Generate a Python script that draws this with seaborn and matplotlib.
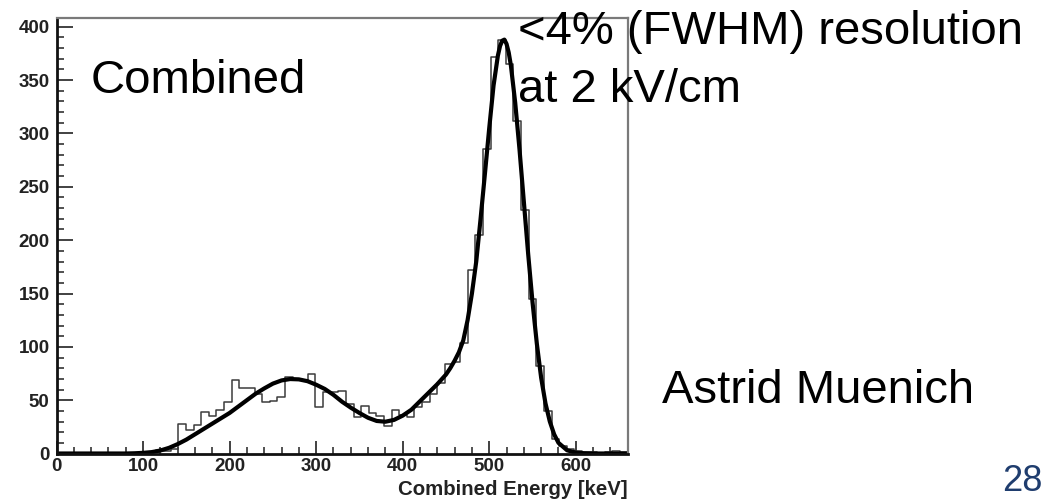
import numpy as np
import pandas as pd
import matplotlib
matplotlib.use("Agg")
import matplotlib.pyplot as plt
from matplotlib.ticker import MultipleLocator
import seaborn as sns

# Histogram of combined energy: 75 bins of 8.8 keV from 0 to 660 keV
BIN_WIDTH = 8.8
counts = [0, 0, 0, 0, 0, 0, 0, 0, 0, 0,
          0, 1, 1, 3, 2, 4, 28, 22, 27, 39,
          35, 41, 48, 69, 61, 61, 56, 48, 49, 53,
          72, 69, 69, 75, 44, 58, 58, 59, 46, 34,
          45, 38, 35, 26, 41, 36, 34, 44, 48, 56,
          66, 84, 86, 104, 172, 205, 285, 372, 388, 365,
          312, 228, 145, 82, 40, 14, 7, 4, 2, 1,
          1, 0, 1, 2, 1]

# Fitted spectrum (keV, counts)
fit_energy = [0, 10, 20, 30, 40, 50, 60, 70, 80, 90,
              100, 110, 120, 130, 140, 150, 160, 170, 180, 190,
              200, 210, 220, 230, 240, 250, 260, 270, 280, 290,
              300, 310, 320, 330, 340, 350, 360, 370, 380, 390,
              400, 410, 420, 430, 440, 450, 455, 460, 465, 470,
              475, 480, 485, 490, 495, 500, 505, 510, 512.5, 515,
              517.5, 520, 522.5, 525, 530, 535, 540, 545, 550, 555,
              560, 565, 570, 575, 580, 590, 600, 610, 620, 640, 660]
fit_counts = [0, 0, 0, 0, 0, 0, 0, 0, 0, 0.2,
              0.6, 1.3, 2.8, 5.3, 8.8, 13, 18, 23, 28, 33,
              38, 44, 50, 56, 61, 65.5, 68.5, 69.8, 69.5, 67.8,
              64.5, 60.5, 55, 48.5, 43, 38, 33.5, 30.5, 29.8, 31.5,
              35.5, 41, 49, 57, 65, 74, 80, 87, 95, 106,
              125, 150, 180, 220, 262, 305, 345, 373, 382, 387,
              388, 384, 376, 364, 329, 285, 236, 187, 142, 103,
              71, 47, 30, 18, 10, 3, 0.8, 0.2, 0, 0, 0]

x_ticks = [0, 100, 200, 300, 400, 500, 600]
y_ticks = [0, 50, 100, 150, 200, 250, 300, 350, 400]

sns.set_theme(style="white")
plt.rcParams['font.family'] = ['Liberation Sans', 'DejaVu Sans']

W, H = 1048, 499
fig = plt.figure(figsize=(W / 100, H / 100), dpi=100)
fig.patch.set_facecolor("white")

x0, x1, y_bot, y_top = 56.5, 627.7, 453.5, 18.3
ax = fig.add_axes([x0 / W, 1 - y_bot / H, (x1 - x0) / W, (y_bot - y_top) / H])
ax.set_facecolor("white")

edges = [i * BIN_WIDTH for i in range(len(counts) + 1)]
hist_df = pd.DataFrame({"energy": [e + BIN_WIDTH / 2 for e in edges[:-1]],
                        "counts": counts})
fit_df = pd.DataFrame({"energy": fit_energy, "counts": fit_counts})

sns.histplot(data=hist_df, x="energy", weights="counts", bins=edges,
             element="step", fill=False, color="#3c3c3c", linewidth=1.1, ax=ax)
sns.lineplot(data=fit_df, x="energy", y="counts", color="black",
             linewidth=3.0, ax=ax)

ax.set_xlim(0, 660)
ax.set_ylim(0, 408)

ax.set_xticks(x_ticks, labels=[str(t) for t in x_ticks], fontweight="bold",
              color="#222222", fontsize=13.5)
ax.set_yticks(y_ticks, labels=[str(t) for t in y_ticks], fontweight="bold",
              color="#222222", fontsize=13.5)
ax.xaxis.set_minor_locator(MultipleLocator(20))
ax.yaxis.set_minor_locator(MultipleLocator(10))

ax.tick_params(axis="x", which="major", direction="in", length=9.5, width=1.3,
               color="#333333", pad=3.0, bottom=True, top=False)
ax.tick_params(axis="x", which="minor", direction="in", length=5, width=1.2,
               color="#333333", bottom=True, top=False)
ax.tick_params(axis="y", which="major", direction="in", length=11.5, width=1.3,
               color="#333333", pad=5.0, left=True, right=False)
ax.tick_params(axis="y", which="minor", direction="in", length=5, width=1.2,
               color="#333333", left=True, right=False)

for side in ("left", "bottom"):
    ax.spines[side].set_color("#111111")
    ax.spines[side].set_linewidth(2.0)
for side in ("top", "right"):
    ax.spines[side].set_color("#7a7a7a")
    ax.spines[side].set_linewidth(1.6)

ax.set_ylabel("")
ax.set_xlabel("Combined Energy [keV]", fontsize=14.7, fontweight="bold",
              color="#222222", loc="right")
ax.xaxis.set_label_coords(1.0, -0.061)


def px_text(x, y, s, **kw):
    fig.text(x / W, 1 - y / H, s, ha="left", va="baseline", **kw)


px_text(90.7, 92.7, "Combined", fontsize=34, color="black")
px_text(518.3, 44.0, "<4% (FWHM) resolution", fontsize=34, color="black")
px_text(518.3, 101.7, "at 2 kV/cm", fontsize=34, color="black")
px_text(661.7, 403.3, "Astrid Muenich", fontsize=34, color="black")
px_text(1001.7, 491.0, "28", fontsize=26, color="#1f3d6e")

fig.savefig("out.png", dpi=100, facecolor="white")
